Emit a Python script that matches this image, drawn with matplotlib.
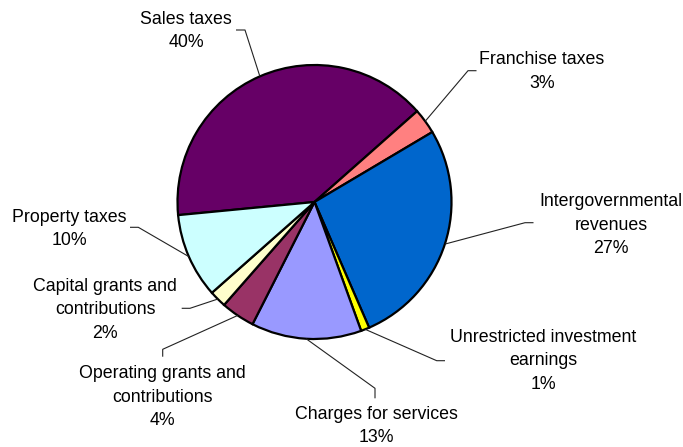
import numpy as np
import matplotlib.pyplot as plt

# revenue sources, clockwise from the left side of the pie
categories = ["Sales taxes", "Franchise taxes", "Intergovernmental\nrevenues",
              "Unrestricted investment\nearnings", "Charges for services",
              "Operating grants and\ncontributions", "Capital grants and\ncontributions",
              "Property taxes"]
shares = [40, 3, 27, 1, 13, 4, 2, 10]
colors = ["#660066", "#FF8080", "#0066CC", "#FFFF00", "#9999FF",
          "#993366", "#FFFFCC", "#CCFFFF"]

W, H = 683, 447
CX, CY, R = 314.5, 202, 137   # pie centre / radius in pixels (y measured from top)

# label layout: text centre x, first baseline y, elbow of leader, end of leader
label_pos = [
    (186, 23.5, (245, 30), (236, 30)),
    (542, 64, (468, 70.7), (476.5, 70.7)),
    (611, 206, (525, 222.7), (533.5, 222.7)),
    (543, 341.7, (436.7, 360.7), (445, 360.7)),
    (376, 419, (375, 388.3), (375, 398.3)),
    (162.5, 378.3, (162.7, 349.3), (162.7, 356.7)),
    (105, 290.7, (190, 308.3), (181.7, 308.3)),
    (69.5, 221.5, (138.3, 227.3), (130, 227.3)),
]
LINE_GAP = 23.5


def fy(y):
    # pixel row (from top) -> data y
    return H - y


fig = plt.figure(figsize=(W / 100, H / 100), dpi=100)
ax = fig.add_axes([0, 0, 1, 1])

wedges, _ = ax.pie(shares, colors=colors, startangle=185.5, counterclock=False,
                   center=(CX, fy(CY)), radius=R,
                   wedgeprops=dict(edgecolor="black", linewidth=1.6))

for w, name, val, (tx, ty, elbow, end) in zip(wedges, categories, shares, label_pos):
    mid = np.deg2rad((w.theta1 + w.theta2) / 2)
    sx = CX + R * np.cos(mid)
    sy = fy(CY) + R * np.sin(mid)
    ax.plot([sx, elbow[0], end[0]], [sy, fy(elbow[1]), fy(end[1])],
            color="#222222", lw=0.8, solid_capstyle="butt")
    lines = name.split("\n") + [f"{val}%"]
    for i, line in enumerate(lines):
        ax.text(tx, fy(ty + i * LINE_GAP), line, ha="center", va="baseline",
                fontsize=12.8, family=["Liberation Sans", "DejaVu Sans"], color="black")

ax.set_xlim(0, W)
ax.set_ylim(0, H)
ax.set_aspect("equal")
ax.axis("off")

fig.savefig("out.png", dpi=100, facecolor="white")
